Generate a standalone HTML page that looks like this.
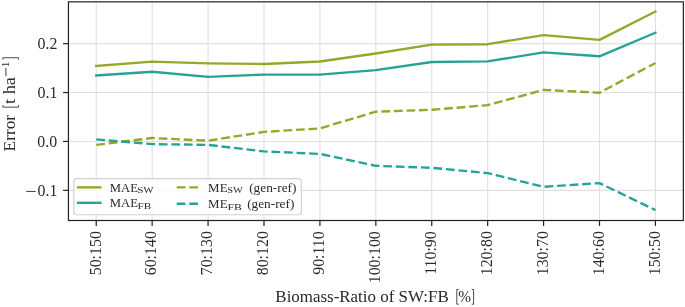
<!DOCTYPE html>
<html><head><meta charset="utf-8"><style>
html,body{margin:0;padding:0;background:#fff;}
svg{display:block;}
text{font-family:"Liberation Serif",serif;fill:#2a2a2a;}
</style></head><body>
<svg width="685" height="307" viewBox="0 0 685 307">
<rect x="0" y="0" width="685" height="307" fill="#fff"/>
<g stroke="#e0e0e0" stroke-width="1.1"><line x1="96.23" y1="1.85" x2="96.23" y2="220.5"/><line x1="152.15" y1="1.85" x2="152.15" y2="220.5"/><line x1="208.07" y1="1.85" x2="208.07" y2="220.5"/><line x1="263.99" y1="1.85" x2="263.99" y2="220.5"/><line x1="319.91" y1="1.85" x2="319.91" y2="220.5"/><line x1="375.83" y1="1.85" x2="375.83" y2="220.5"/><line x1="431.75" y1="1.85" x2="431.75" y2="220.5"/><line x1="487.67" y1="1.85" x2="487.67" y2="220.5"/><line x1="543.59" y1="1.85" x2="543.59" y2="220.5"/><line x1="599.51" y1="1.85" x2="599.51" y2="220.5"/><line x1="655.43" y1="1.85" x2="655.43" y2="220.5"/><line x1="68.45" y1="43.65" x2="683.35" y2="43.65"/><line x1="68.45" y1="92.55" x2="683.35" y2="92.55"/><line x1="68.45" y1="141.45" x2="683.35" y2="141.45"/><line x1="68.45" y1="190.35" x2="683.35" y2="190.35"/></g>
<polyline points="96.23,65.90 152.15,61.60 208.07,63.40 263.99,64.00 319.91,61.50 375.83,53.50 431.75,44.60 487.67,44.20 543.59,35.10 599.51,39.90 655.43,11.60" fill="none" stroke="#98a62a" stroke-width="2.37" stroke-linecap="square" stroke-linejoin="round"/>
<polyline points="96.23,75.50 152.15,71.80 208.07,76.90 263.99,74.60 319.91,74.60 375.83,70.10 431.75,62.00 487.67,61.40 543.59,52.40 599.51,56.30 655.43,32.70" fill="none" stroke="#27a396" stroke-width="2.37" stroke-linecap="square" stroke-linejoin="round"/>
<polyline points="96.23,144.90 152.15,138.00 208.07,140.70 263.99,131.90 319.91,128.40 375.83,111.70 431.75,109.80 487.67,105.10 543.59,89.90 599.51,92.70 655.43,63.00" fill="none" stroke="#98a62a" stroke-width="2.37" stroke-dasharray="8.77 3.79" stroke-linecap="butt" stroke-linejoin="round"/>
<polyline points="96.23,139.40 152.15,144.10 208.07,144.90 263.99,151.40 319.91,153.90 375.83,165.80 431.75,167.80 487.67,173.10 543.59,186.80 599.51,183.10 655.43,210.10" fill="none" stroke="#27a396" stroke-width="2.37" stroke-dasharray="8.77 3.79" stroke-linecap="butt" stroke-linejoin="round"/>
<rect x="73.85" y="178.55" width="227.50000000000003" height="36.19999999999999" rx="3" ry="3" fill="#fff" fill-opacity="0.8" stroke="#d2d2d2" stroke-width="1.2"/>
<line x1="78.1" y1="187.35" x2="100.4" y2="187.35" stroke="#98a62a" stroke-width="2.37" stroke-linecap="square"/>
<line x1="78.1" y1="202.8" x2="100.4" y2="202.8" stroke="#27a396" stroke-width="2.37" stroke-linecap="square"/>
<line x1="176.7" y1="187.35" x2="199.0" y2="187.35" stroke="#98a62a" stroke-width="2.37" stroke-dasharray="8.77 3.79"/>
<line x1="176.7" y1="203.75" x2="199.0" y2="203.75" stroke="#27a396" stroke-width="2.37" stroke-dasharray="8.77 3.79"/>
<rect x="68.45" y="1.85" width="614.9" height="218.65" fill="none" stroke="#202020" stroke-width="1.2"/>
<g stroke="#202020" stroke-width="1.2"><line x1="96.23" y1="220.5" x2="96.23" y2="225.9"/><line x1="152.15" y1="220.5" x2="152.15" y2="225.9"/><line x1="208.07" y1="220.5" x2="208.07" y2="225.9"/><line x1="263.99" y1="220.5" x2="263.99" y2="225.9"/><line x1="319.91" y1="220.5" x2="319.91" y2="225.9"/><line x1="375.83" y1="220.5" x2="375.83" y2="225.9"/><line x1="431.75" y1="220.5" x2="431.75" y2="225.9"/><line x1="487.67" y1="220.5" x2="487.67" y2="225.9"/><line x1="543.59" y1="220.5" x2="543.59" y2="225.9"/><line x1="599.51" y1="220.5" x2="599.51" y2="225.9"/><line x1="655.43" y1="220.5" x2="655.43" y2="225.9"/><line x1="63.050000000000004" y1="43.65" x2="68.45" y2="43.65"/><line x1="63.050000000000004" y1="92.55" x2="68.45" y2="92.55"/><line x1="63.050000000000004" y1="141.45" x2="68.45" y2="141.45"/><line x1="63.050000000000004" y1="190.35" x2="68.45" y2="190.35"/></g>
<g opacity="0.999">
<text x="109.89" y="191.5" font-size="12.0" textLength="28.12" lengthAdjust="spacingAndGlyphs">MAE</text>
<text x="137.25" y="192.9" font-size="8.4" textLength="16.41" lengthAdjust="spacingAndGlyphs">SW</text>
<text x="109.89" y="207.3" font-size="12.0" textLength="28.12" lengthAdjust="spacingAndGlyphs">MAE</text>
<text x="137.56" y="208.60000000000002" font-size="8.4" textLength="13.77" lengthAdjust="spacingAndGlyphs">FB</text>
<text x="208.13" y="191.6" font-size="12.0" textLength="19.41" lengthAdjust="spacingAndGlyphs">ME</text>
<text x="227.28" y="193.0" font-size="8.4" textLength="15.59" lengthAdjust="spacingAndGlyphs">SW</text>
<text x="249.15" y="191.6" font-size="12.0" textLength="47.29" lengthAdjust="spacingAndGlyphs">(gen-ref)</text>
<text x="208.13" y="208.2" font-size="12.0" textLength="19.41" lengthAdjust="spacingAndGlyphs">ME</text>
<text x="227.55" y="209.6" font-size="8.4" textLength="14.40" lengthAdjust="spacingAndGlyphs">FB</text>
<text x="247.15" y="208.2" font-size="12.0" textLength="47.19" lengthAdjust="spacingAndGlyphs">(gen-ref)</text>
<text x="275.38" y="301.6" font-size="16.2" textLength="173.34" lengthAdjust="spacingAndGlyphs">Biomass-Ratio of SW:FB</text>
<text x="458.33" y="301.6" font-size="16.2" textLength="12.73" lengthAdjust="spacingAndGlyphs">%</text>
<text transform="translate(15.2,151.43) rotate(-90)" font-size="16.2" textLength="36.50" lengthAdjust="spacingAndGlyphs">Error</text>
<text transform="translate(15.2,103.98) rotate(-90)" font-size="16.2" textLength="26.95" lengthAdjust="spacingAndGlyphs">t ha</text>
<text transform="translate(8.6,67.34) rotate(-90)" font-size="10.7" textLength="5.56" lengthAdjust="spacingAndGlyphs">1</text>
<rect x="5.45" y="68.0" width="0.9" height="8.1" fill="#2a2a2a"/>
<path d="M458.7,289.5 H456.8 V304.2 H458.7 M471.7,289.5 H473.6 V304.2 H471.7" fill="none" stroke="#2a2a2a" stroke-width="0.85"/>
<path d="M2.9,59.7 V57.75 H18.6 V59.7 M2.9,105.2 V107.15 H18.6 V105.2" fill="none" stroke="#2a2a2a" stroke-width="0.85"/>
<text x="37.60" y="49.28" font-size="15.9">0.2</text>
<text x="37.60" y="98.18" font-size="15.9">0.1</text>
<text x="37.35" y="147.08" font-size="15.9">0.0</text>
<text x="37.60" y="195.98" font-size="15.9">0.1</text>
<rect x="26.3" y="190.95" width="9.4" height="0.9" fill="#2a2a2a"/>
<text transform="translate(100.56,275.30) rotate(-90)" font-size="15.9">50:150</text>
<text transform="translate(156.47,275.30) rotate(-90)" font-size="15.9">60:140</text>
<text transform="translate(212.39,275.30) rotate(-90)" font-size="15.9">70:130</text>
<text transform="translate(268.31,275.30) rotate(-90)" font-size="15.9">80:120</text>
<text transform="translate(324.24,274.80) rotate(-90)" font-size="15.9">90:110</text>
<text transform="translate(380.16,283.30) rotate(-90)" font-size="15.9">100:100</text>
<text transform="translate(436.07,274.80) rotate(-90)" font-size="15.9">110:90</text>
<text transform="translate(492.00,275.30) rotate(-90)" font-size="15.9">120:80</text>
<text transform="translate(547.92,275.30) rotate(-90)" font-size="15.9">130:70</text>
<text transform="translate(603.84,275.30) rotate(-90)" font-size="15.9">140:60</text>
<text transform="translate(659.76,275.30) rotate(-90)" font-size="15.9">150:50</text>
</g>
</svg></body></html>
